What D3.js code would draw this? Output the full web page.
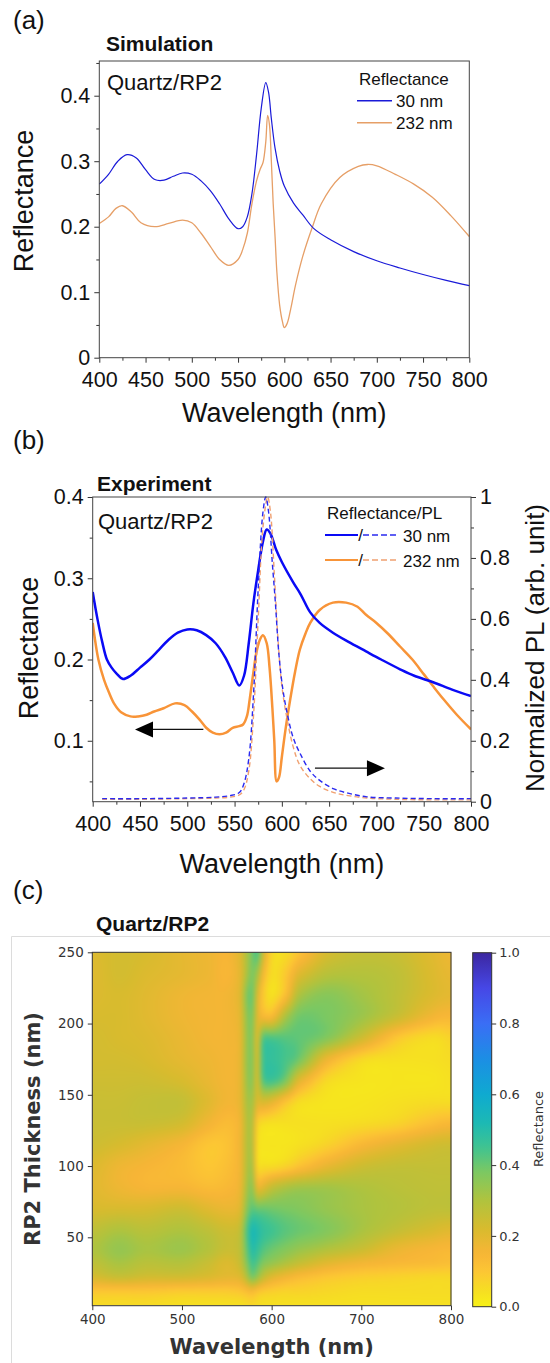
<!DOCTYPE html>
<html lang="en">
<head>
<meta charset="UTF-8" />
<title>Quartz/RP2 reflectance</title>
<script src="https://d3js.org/d3.v7.min.js"></script>
<style>
  body { margin: 0; background: #fff; }
  svg { display: block; }
  .arial { font-family: "Liberation Sans", Arial, sans-serif; fill: #111; }
  .mpl { font-family: "DejaVu Sans", sans-serif; fill: #333; }
  .tick line { stroke: #333; }
</style>
</head>
<body>
<svg id="fig" width="550" height="1363"></svg>
<script>
// ---- (a) simulation, 30 nm and 232 nm films
const simWl30 = [400, 410, 420, 430, 440, 450, 460, 470, 480, 490, 500, 510, 520, 530, 540, 550, 555, 560, 565, 570, 575, 580, 583, 586, 590, 595, 600, 610, 620, 632, 650, 675, 700, 725, 750, 775, 800];
const simR30 = [0.265, 0.28, 0.3, 0.31, 0.305, 0.287, 0.272, 0.271, 0.277, 0.282, 0.28, 0.27, 0.255, 0.235, 0.212, 0.197, 0.2, 0.215, 0.25, 0.31, 0.38, 0.42, 0.405, 0.365, 0.32, 0.285, 0.262, 0.236, 0.218, 0.197, 0.18, 0.162, 0.148, 0.137, 0.127, 0.118, 0.11];
const simWl232 = [400, 410, 418, 425, 435, 445, 460, 475, 490, 500, 510, 520, 530, 540, 550, 555, 560, 565, 570, 574, 577, 580, 582, 584, 586, 588, 590, 592, 595, 598, 600, 603, 607, 612, 620, 630, 640, 660, 680, 690, 700, 720, 740, 760, 780, 800];
const simR232 = [0.205, 0.215, 0.228, 0.232, 0.222, 0.206, 0.2, 0.205, 0.21, 0.206, 0.19, 0.17, 0.15, 0.141, 0.15, 0.165, 0.19, 0.235, 0.27, 0.288, 0.298, 0.33, 0.37, 0.355, 0.3, 0.235, 0.185, 0.13, 0.08, 0.055, 0.046, 0.052, 0.075, 0.11, 0.155, 0.198, 0.235, 0.275, 0.292, 0.295, 0.293, 0.28, 0.265, 0.245, 0.217, 0.185];

// ---- (b) experiment
const expWl30 = [400, 405, 410, 415, 420, 425, 432, 440, 450, 460, 470, 480, 490, 500, 510, 520, 530, 540, 548, 555, 560, 565, 570, 575, 580, 584, 588, 594, 600, 612, 620, 630, 640, 654, 670, 689, 705, 725, 740, 760, 780, 800];
const expR30 = [0.283, 0.25, 0.222, 0.2, 0.19, 0.183, 0.176, 0.18, 0.19, 0.2, 0.212, 0.224, 0.233, 0.237, 0.236, 0.23, 0.22, 0.203, 0.184, 0.168, 0.18, 0.22, 0.27, 0.31, 0.345, 0.36, 0.355, 0.335, 0.32, 0.295, 0.28, 0.258, 0.245, 0.233, 0.222, 0.21, 0.2, 0.188, 0.18, 0.172, 0.163, 0.155];
const expWl232 = [400, 406, 412, 417, 423, 430, 440, 448, 457, 465, 475, 487, 497, 505, 513, 520, 527, 534, 541, 548, 555, 559, 563, 566, 570, 573, 577, 580, 584, 587, 590, 592, 594.5, 597, 600, 604, 609, 614, 619, 625, 630, 640, 654, 668, 680, 689, 700, 712, 725, 738, 750, 760, 771, 785, 800];
const expR232 = [0.245, 0.2, 0.175, 0.16, 0.145, 0.135, 0.13, 0.13, 0.132, 0.136, 0.14, 0.146, 0.144, 0.136, 0.126, 0.116, 0.11, 0.108, 0.11, 0.116, 0.118, 0.12, 0.13, 0.151, 0.185, 0.208, 0.225, 0.23, 0.22, 0.19, 0.14, 0.1, 0.05, 0.055, 0.08, 0.115, 0.152, 0.185, 0.212, 0.232, 0.245, 0.261, 0.27, 0.27, 0.265, 0.255, 0.245, 0.232, 0.216, 0.2, 0.182, 0.167, 0.151, 0.132, 0.114];
const plWl30 = [410, 450, 500, 530, 545, 555, 560, 565, 570, 575, 580, 583, 586, 590, 593, 597, 601, 605, 612, 619, 630, 640, 655, 670, 690, 720, 760, 800];
const pl30 = [0.01, 0.01, 0.012, 0.015, 0.02, 0.03, 0.06, 0.14, 0.35, 0.7, 0.95, 1.0, 0.95, 0.78, 0.66, 0.48, 0.37, 0.3, 0.21, 0.16, 0.1, 0.07, 0.042, 0.028, 0.016, 0.012, 0.01, 0.01];
const plWl232 = [410, 450, 500, 530, 545, 555, 560, 565, 570, 575, 580, 585, 588, 592, 596, 600, 605, 612, 619, 630, 640, 655, 670, 690, 720, 760, 800];
const pl232 = [0.008, 0.008, 0.01, 0.012, 0.015, 0.022, 0.04, 0.1, 0.28, 0.6, 0.9, 1.0, 0.95, 0.75, 0.53, 0.38, 0.28, 0.18, 0.12, 0.075, 0.05, 0.03, 0.02, 0.012, 0.008, 0.006, 0.006];

// ---- (c) simulated reflectance map, rows = thickness (nm), columns = wavelength (nm)
const mapWl = [400, 430, 460, 500, 530, 550, 565, 572, 578, 584, 590, 600, 615, 630, 660, 700, 740, 780, 800];
const mapThick = [2, 12, 22, 32, 42, 55, 70, 85, 100, 115, 130, 145, 160, 175, 190, 205, 220, 235, 250];
const mapR = [
  [0.05, 0.05, 0.05, 0.04, 0.04, 0.04, 0.04, 0.05, 0.06, 0.05, 0.04, 0.04, 0.04, 0.04, 0.04, 0.04, 0.04, 0.04, 0.04],
  [0.10, 0.10, 0.10, 0.09, 0.09, 0.09, 0.10, 0.12, 0.14, 0.11, 0.09, 0.08, 0.07, 0.07, 0.06, 0.05, 0.05, 0.05, 0.05],
  [0.22, 0.25, 0.23, 0.23, 0.21, 0.19, 0.20, 0.28, 0.38, 0.33, 0.26, 0.20, 0.16, 0.13, 0.10, 0.08, 0.07, 0.06, 0.06],
  [0.27, 0.31, 0.28, 0.29, 0.25, 0.21, 0.25, 0.36, 0.45, 0.42, 0.37, 0.34, 0.30, 0.26, 0.20, 0.16, 0.14, 0.13, 0.12],
  [0.30, 0.34, 0.31, 0.33, 0.29, 0.25, 0.27, 0.40, 0.50, 0.47, 0.43, 0.40, 0.37, 0.34, 0.30, 0.25, 0.18, 0.15, 0.14],
  [0.27, 0.30, 0.28, 0.30, 0.27, 0.24, 0.26, 0.42, 0.52, 0.50, 0.47, 0.45, 0.42, 0.40, 0.37, 0.31, 0.26, 0.22, 0.20],
  [0.22, 0.22, 0.22, 0.24, 0.20, 0.18, 0.20, 0.35, 0.42, 0.40, 0.40, 0.39, 0.38, 0.37, 0.34, 0.31, 0.29, 0.27, 0.27],
  [0.20, 0.17, 0.15, 0.15, 0.13, 0.14, 0.17, 0.30, 0.36, 0.18, 0.20, 0.26, 0.30, 0.32, 0.32, 0.30, 0.28, 0.27, 0.27],
  [0.21, 0.17, 0.15, 0.13, 0.10, 0.12, 0.16, 0.28, 0.32, 0.06, 0.05, 0.05, 0.07, 0.11, 0.18, 0.24, 0.26, 0.26, 0.26],
  [0.24, 0.22, 0.19, 0.15, 0.10, 0.11, 0.16, 0.28, 0.30, 0.05, 0.03, 0.03, 0.03, 0.04, 0.07, 0.14, 0.19, 0.23, 0.24],
  [0.25, 0.25, 0.25, 0.23, 0.16, 0.13, 0.16, 0.28, 0.30, 0.08, 0.05, 0.04, 0.04, 0.04, 0.04, 0.05, 0.07, 0.12, 0.14],
  [0.25, 0.25, 0.26, 0.26, 0.20, 0.16, 0.18, 0.30, 0.32, 0.20, 0.22, 0.19, 0.11, 0.05, 0.03, 0.03, 0.04, 0.05, 0.05],
  [0.24, 0.24, 0.24, 0.22, 0.18, 0.16, 0.18, 0.32, 0.36, 0.22, 0.42, 0.45, 0.38, 0.20, 0.06, 0.03, 0.03, 0.03, 0.04],
  [0.23, 0.23, 0.22, 0.19, 0.17, 0.16, 0.18, 0.33, 0.37, 0.22, 0.45, 0.47, 0.44, 0.39, 0.18, 0.06, 0.04, 0.04, 0.05],
  [0.23, 0.22, 0.21, 0.18, 0.16, 0.16, 0.18, 0.33, 0.37, 0.2, 0.42, 0.43, 0.42, 0.41, 0.37, 0.24, 0.10, 0.05, 0.07],
  [0.22, 0.22, 0.2, 0.17, 0.16, 0.16, 0.19, 0.34, 0.38, 0.2, 0.15, 0.14, 0.30, 0.39, 0.38, 0.33, 0.25, 0.16, 0.14],
  [0.21, 0.22, 0.2, 0.17, 0.16, 0.16, 0.20, 0.36, 0.40, 0.22, 0.10, 0.04, 0.12, 0.30, 0.36, 0.32, 0.27, 0.21, 0.19],
  [0.205, 0.23, 0.21, 0.19, 0.17, 0.145, 0.19, 0.30, 0.38, 0.32, 0.16, 0.05, 0.09, 0.20, 0.28, 0.29, 0.27, 0.21, 0.185],
  [0.21, 0.23, 0.22, 0.19, 0.17, 0.15, 0.20, 0.30, 0.38, 0.44, 0.25, 0.06, 0.05, 0.11, 0.22, 0.26, 0.25, 0.20, 0.17]
];

// reversed parula-like colormap as seen on the colorbar
const cmapStops = [0, 0.05, 0.1, 0.15, 0.22, 0.3, 0.38, 0.45, 0.52, 0.6, 0.7, 0.8, 0.9, 1];
const cmapColors = ["#f7f116", "#f6dc24", "#fcc634", "#f7b536", "#d8bb2e", "#b0c33e", "#7cc862", "#3fc391", "#1cb9b4", "#0faad0", "#1c8ee4", "#3a6ef5", "#4647e6", "#3c27a0"];

const svg = d3.select("#fig");
const blue = "#1a1ad8", sand = "#e69f67";
const expBlue = "#0a0af5", expOrange = "#f89438";

function ticksAxis(g, axis, fontSize, cls) {
  g.call(axis);
  g.select(".domain").remove();
  g.selectAll("text").attr("class", cls).style("font-size", fontSize + "px").attr("fill", null);
}

// ================= (a) =================
const xA = d3.scaleLinear().domain([400, 800]).range([99.3, 469.3]);
const yA = d3.scaleLinear().domain([0, 0.453]).range([357.7, 61]);

svg.append("text").attr("class", "arial").attr("x", 13).attr("y", 29).style("font-size", "26px").text("(a)");
svg.append("text").attr("class", "arial").attr("x", 106).attr("y", 51).style("font-size", "21px").style("font-weight", "bold").text("Simulation");

ticksAxis(svg.append("g").attr("transform", `translate(0,${yA.range()[0]})`),
  d3.axisBottom(xA).tickValues(d3.range(400, 801, 50)).tickSize(5).tickPadding(9.5), 21.5, "arial");
ticksAxis(svg.append("g").attr("transform", `translate(0,${yA.range()[0]})`),
  d3.axisBottom(xA).tickValues(d3.range(425, 800, 50)).tickSize(3).tickFormat(""), 21.5, "arial");
ticksAxis(svg.append("g").attr("transform", `translate(${xA.range()[0]},0)`),
  d3.axisLeft(yA).tickValues([0, 0.1, 0.2, 0.3, 0.4]).tickSize(5).tickPadding(4).tickFormat(d => d === 0 ? "0" : d3.format(".1f")(d)), 21.5, "arial");
ticksAxis(svg.append("g").attr("transform", `translate(${xA.range()[0]},0)`),
  d3.axisLeft(yA).tickValues([0.05, 0.15, 0.25, 0.35, 0.45]).tickSize(3).tickFormat(""), 21.5, "arial");

const lineA = (wl, r) => d3.line().x((d, i) => xA(wl[i])).y(d => yA(d)).curve(d3.curveCatmullRom.alpha(0.5))(r);
svg.append("path").attr("d", lineA(simWl232, simR232)).attr("fill", "none").attr("stroke", sand).attr("stroke-width", 1.3);
svg.append("path").attr("d", lineA(simWl30, simR30)).attr("fill", "none").attr("stroke", blue).attr("stroke-width", 1.2);

svg.append("rect").attr("x", xA.range()[0]).attr("y", yA.range()[1])
  .attr("width", xA.range()[1] - xA.range()[0]).attr("height", yA.range()[0] - yA.range()[1])
  .attr("fill", "none").attr("stroke", "#444").attr("stroke-width", 1);

svg.append("text").attr("class", "arial").attr("x", 107).attr("y", 90).style("font-size", "22px").text("Quartz/RP2");
svg.append("text").attr("class", "arial").attr("x", 359).attr("y", 85).style("font-size", "17px").text("Reflectance");
[["30 nm", blue, 100.7], ["232 nm", sand, 122.7]].forEach(([lab, c, ly]) => {
  svg.append("line").attr("x1", 357).attr("x2", 392).attr("y1", ly).attr("y2", ly).attr("stroke", c).attr("stroke-width", 1.6);
  svg.append("text").attr("class", "arial").attr("x", 396).attr("y", ly + 6.2).style("font-size", "17px").text(lab);
});

svg.append("text").attr("class", "arial").attr("transform", "translate(33,201) rotate(-90)")
  .attr("text-anchor", "middle").style("font-size", "27px").text("Reflectance");
svg.append("text").attr("class", "arial").attr("x", (xA.range()[0] + xA.range()[1]) / 2).attr("y", 422)
  .attr("text-anchor", "middle").style("font-size", "27px").text("Wavelength (nm)");

// ================= (b) =================
const xB = d3.scaleLinear().domain([400, 800]).range([92.7, 471]);
const yB = d3.scaleLinear().domain([0.025, 0.4]).range([801.7, 497]);
const yB2 = d3.scaleLinear().domain([0, 1]).range([801.7, 497]);

svg.append("text").attr("class", "arial").attr("x", 13).attr("y", 449).style("font-size", "26px").text("(b)");
svg.append("text").attr("class", "arial").attr("x", 97).attr("y", 491).style("font-size", "21px").style("font-weight", "bold").text("Experiment");

ticksAxis(svg.append("g").attr("transform", `translate(0,${yB.range()[0]})`),
  d3.axisBottom(xB).tickValues(d3.range(400, 801, 50)).tickSize(5).tickPadding(9.5), 21.5, "arial");
ticksAxis(svg.append("g").attr("transform", `translate(0,${yB.range()[0]})`),
  d3.axisBottom(xB).tickValues(d3.range(425, 800, 50)).tickSize(3).tickFormat(""), 21.5, "arial");
ticksAxis(svg.append("g").attr("transform", `translate(${xB.range()[0]},0)`),
  d3.axisLeft(yB).tickValues([0.1, 0.2, 0.3, 0.4]).tickSize(5).tickPadding(4).tickFormat(d3.format(".1f")), 21.5, "arial");
ticksAxis(svg.append("g").attr("transform", `translate(${xB.range()[0]},0)`),
  d3.axisLeft(yB).tickValues([0.05, 0.15, 0.25, 0.35]).tickSize(3).tickFormat(""), 21.5, "arial");
ticksAxis(svg.append("g").attr("transform", `translate(${xB.range()[1]},0)`),
  d3.axisRight(yB2).tickValues([0, 0.2, 0.4, 0.6, 0.8, 1]).tickSize(5).tickPadding(4).tickFormat(d => (d === 0 || d === 1) ? String(d) : d3.format(".1f")(d)), 21.5, "arial");
ticksAxis(svg.append("g").attr("transform", `translate(${xB.range()[1]},0)`),
  d3.axisRight(yB2).tickValues([0.1, 0.3, 0.5, 0.7, 0.9]).tickSize(3).tickFormat(""), 21.5, "arial");

svg.append("clipPath").attr("id", "clipB").append("rect")
  .attr("x", xB.range()[0]).attr("y", yB.range()[1] - 1).attr("width", xB.range()[1] - xB.range()[0]).attr("height", yB.range()[0] - yB.range()[1] + 1);
const gB = svg.append("g").attr("clip-path", "url(#clipB)");
const lineB = (wl, v, ys) => d3.line().x((d, i) => xB(wl[i])).y(d => ys(d)).curve(d3.curveCatmullRom.alpha(0.5))(v);
gB.append("path").attr("d", lineB(expWl232, expR232, yB)).attr("fill", "none").attr("stroke", expOrange).attr("stroke-width", 2.5);
gB.append("path").attr("d", lineB(expWl30, expR30, yB)).attr("fill", "none").attr("stroke", expBlue).attr("stroke-width", 2.5);
gB.append("path").attr("d", lineB(plWl232, pl232, yB2)).attr("fill", "none").attr("stroke", "#f0a070").attr("stroke-width", 1.4).attr("stroke-dasharray", "5,3");
gB.append("path").attr("d", lineB(plWl30, pl30, yB2)).attr("fill", "none").attr("stroke", "#2a2af0").attr("stroke-width", 1.4).attr("stroke-dasharray", "5,3");

svg.append("rect").attr("x", xB.range()[0]).attr("y", yB.range()[1])
  .attr("width", xB.range()[1] - xB.range()[0]).attr("height", yB.range()[0] - yB.range()[1])
  .attr("fill", "none").attr("stroke", "#444").attr("stroke-width", 1);

// arrows: reflectance -> left axis, PL -> right axis
const ayL = yB(0.114);
svg.append("line").attr("x1", xB(517)).attr("x2", xB(455)).attr("y1", ayL).attr("y2", ayL).attr("stroke", "#111").attr("stroke-width", 1.3);
svg.append("path").attr("d", `M${xB(444.7)},${ayL}L${xB(444.7) + 18},${ayL - 8}L${xB(444.7) + 18},${ayL + 8}Z`).attr("fill", "#000");
const ayR = yB2(0.11);
svg.append("line").attr("x1", xB(635)).attr("x2", xB(698)).attr("y1", ayR).attr("y2", ayR).attr("stroke", "#111").attr("stroke-width", 1.3);
svg.append("path").attr("d", `M${xB(709)},${ayR}L${xB(709) - 18},${ayR - 8}L${xB(709) - 18},${ayR + 8}Z`).attr("fill", "#000");

svg.append("text").attr("class", "arial").attr("x", 98).attr("y", 529).style("font-size", "22px").text("Quartz/RP2");
svg.append("text").attr("class", "arial").attr("x", 327).attr("y", 519).style("font-size", "17px").text("Reflectance/PL");
[["30 nm", expBlue, "#2a2af0", 535], ["232 nm", expOrange, "#f0a070", 560]].forEach(([lab, c, cd, ly]) => {
  svg.append("line").attr("x1", 325).attr("x2", 358).attr("y1", ly).attr("y2", ly).attr("stroke", c).attr("stroke-width", 1.8);
  svg.append("text").attr("class", "arial").attr("x", 360.5).attr("y", ly + 6).attr("text-anchor", "middle").style("font-size", "17px").text("/");
  svg.append("line").attr("x1", 363).attr("x2", 396).attr("y1", ly).attr("y2", ly).attr("stroke", cd).attr("stroke-width", 1.4).attr("stroke-dasharray", "6,3");
  svg.append("text").attr("class", "arial").attr("x", 403).attr("y", ly + 6.5).style("font-size", "17px").text(lab);
});

svg.append("text").attr("class", "arial").attr("transform", "translate(38,648) rotate(-90)")
  .attr("text-anchor", "middle").style("font-size", "27px").text("Reflectance");
svg.append("text").attr("class", "arial").attr("transform", "translate(544,648) rotate(-90)")
  .attr("text-anchor", "middle").style("font-size", "26px").text("Normalized PL (arb. unit)");
svg.append("text").attr("class", "arial").attr("x", (xB.range()[0] + xB.range()[1]) / 2).attr("y", 873)
  .attr("text-anchor", "middle").style("font-size", "27px").text("Wavelength (nm)");

// ================= (c) =================
svg.append("text").attr("class", "arial").attr("x", 13).attr("y", 899).style("font-size", "26px").text("(c)");
svg.append("text").attr("class", "arial").attr("x", 96).attr("y", 931).style("font-size", "21px").style("font-weight", "bold").text("Quartz/RP2");
svg.append("path").attr("d", "M11.5,1363V936.5H550").attr("fill", "none").attr("stroke", "#dcdcdc").attr("stroke-width", 1);

const xC = d3.scaleLinear().domain([400, 800]).range([92.3, 451]);
const yC = d3.scaleLinear().domain([2, 250]).range([1305.7, 952.3]);
const color = d3.scaleLinear().domain(cmapStops).range(cmapColors).interpolate(d3.interpolateRgb).clamp(true);

// smooth (Catmull-Rom in grid index space) lookup for drawing the map
function gridPos(arr, v) {
  const i = Math.max(0, Math.min(arr.length - 2, d3.bisectRight(arr, v) - 1));
  const f = Math.max(0, Math.min(1, (v - arr[i]) / (arr[i + 1] - arr[i])));
  return [i, f];
}
function cr(p0, p1, p2, p3, t) {
  return 0.5 * (2 * p1 + (-p0 + p2) * t + (2 * p0 - 5 * p1 + 4 * p2 - p3) * t * t + (-p0 + 3 * p1 - 3 * p2 + p3) * t * t * t);
}
function mapValue(wl, t) {
  const [i, fx] = gridPos(mapWl, wl), [j, fy] = gridPos(mapThick, t);
  const ci = k => Math.max(0, Math.min(mapWl.length - 1, k));
  const cj = k => Math.max(0, Math.min(mapThick.length - 1, k));
  const rowAt = r => cr(mapR[r][ci(i - 1)], mapR[r][i], mapR[r][i + 1], mapR[r][ci(i + 2)], fx);
  const v = cr(rowAt(cj(j - 1)), rowAt(j), rowAt(j + 1), rowAt(cj(j + 2)), fy);
  return Math.max(0, Math.min(1, v));
}

const pad = 8;
const x0 = xC.range()[0], y0 = yC.range()[1];
const W = Math.round(xC.range()[1] - x0), H = Math.round(yC.range()[0] - y0);
const raw = document.createElement("canvas");
raw.width = W + 2 * pad; raw.height = H + 2 * pad;
const rctx = raw.getContext("2d");
const img = rctx.createImageData(raw.width, raw.height);
for (let py = 0; py < raw.height; py++) {
  const t = yC.invert(y0 + py - pad + 0.5);
  for (let px = 0; px < raw.width; px++) {
    const wl = xC.invert(x0 + px - pad + 0.5);
    const c = d3.rgb(color(mapValue(wl, t)));
    const k = (py * raw.width + px) * 4;
    img.data[k] = c.r; img.data[k + 1] = c.g; img.data[k + 2] = c.b; img.data[k + 3] = 255;
  }
}
rctx.putImageData(img, 0, 0);
const out = document.createElement("canvas");
out.width = W; out.height = H;
const octx = out.getContext("2d");
octx.filter = "blur(2px)";
octx.drawImage(raw, -pad, -pad);

svg.append("image").attr("x", x0).attr("y", y0).attr("width", W).attr("height", H)
  .attr("preserveAspectRatio", "none").attr("href", out.toDataURL());
svg.append("rect").attr("x", x0).attr("y", y0).attr("width", xC.range()[1] - x0).attr("height", yC.range()[0] - y0)
  .attr("fill", "none").attr("stroke", "#333").attr("stroke-width", 1);

ticksAxis(svg.append("g").attr("transform", `translate(0,${yC.range()[0]})`),
  d3.axisBottom(xC).tickValues(d3.range(400, 801, 100)).tickSize(4.5).tickPadding(4), 13.5, "mpl");
ticksAxis(svg.append("g").attr("transform", `translate(${x0},0)`),
  d3.axisLeft(yC).tickValues([50, 100, 150, 200, 250]).tickSize(4.5).tickPadding(4), 13.5, "mpl");
svg.append("text").attr("class", "mpl").attr("x", (x0 + xC.range()[1]) / 2).attr("y", 1354)
  .attr("text-anchor", "middle").style("font-size", "21px").style("font-weight", "bold").attr("fill", "#111").text("Wavelength (nm)");
svg.append("text").attr("class", "mpl").attr("transform", "translate(40,1129) rotate(-90)")
  .attr("text-anchor", "middle").style("font-size", "21px").style("font-weight", "bold").attr("fill", "#111").text("RP2 Thickness (nm)");

// colorbar
const cb = d3.scaleLinear().domain([0, 1]).range([1306.7, 952.7]);
const grad = svg.append("defs").append("linearGradient").attr("id", "cbGrad")
  .attr("x1", 0).attr("y1", 1).attr("x2", 0).attr("y2", 0);
d3.range(0, 1.0001, 0.02).forEach(v => grad.append("stop").attr("offset", v).attr("stop-color", color(v)));
svg.append("rect").attr("x", 472.7).attr("y", cb.range()[1]).attr("width", 19).attr("height", cb.range()[0] - cb.range()[1])
  .attr("fill", "url(#cbGrad)").attr("stroke", "#333").attr("stroke-width", 1);
ticksAxis(svg.append("g").attr("transform", "translate(491.7,0)"),
  d3.axisRight(cb).tickValues([0, 0.2, 0.4, 0.6, 0.8, 1]).tickSize(4.5).tickPadding(3).tickFormat(d3.format(".1f")), 13, "mpl");
svg.append("text").attr("class", "mpl").attr("transform", "translate(543,1129) rotate(-90)")
  .attr("text-anchor", "middle").style("font-size", "13px").text("Reflectance");
</script>
</body>
</html>
